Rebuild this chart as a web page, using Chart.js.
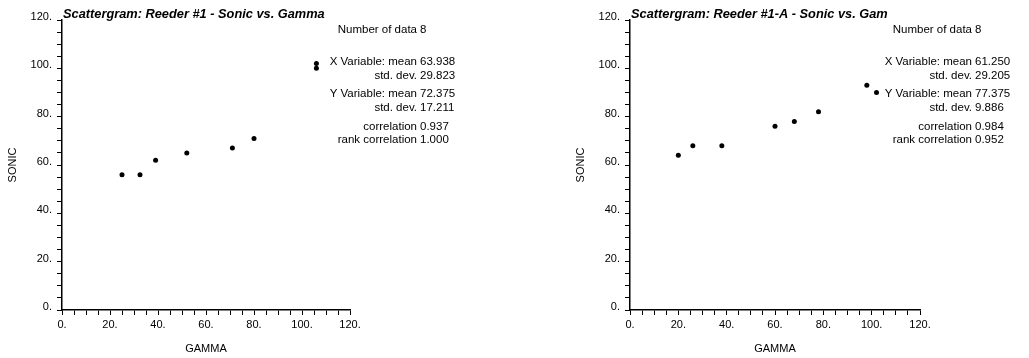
<!DOCTYPE html>
<html>
<head>
<meta charset="utf-8">
<script src="https://cdn.jsdelivr.net/npm/chart.js@4.4.1/dist/chart.umd.min.js"></script>
<style>
  body { margin: 0; background: #fff; width: 1029px; height: 358px; position: relative; overflow: hidden; }
  .box { position: absolute; top: 0; height: 358px; }
  #left { left: 0; width: 510px; }
  #right { left: 568px; width: 461px; }
</style>
</head>
<body>
<div class="box" id="left"><canvas id="c1"></canvas></div>
<div class="box" id="right"><canvas id="c2"></canvas></div>
<script>
// data
const gamma1 = [25, 32.5, 39, 52, 71, 80, 106, 106];
const sonic1 = [56, 56, 62, 65, 67, 71, 102, 100];
const gamma2 = [20, 26, 38, 60, 68, 78, 98, 102];
const sonic2 = [64, 68, 68, 76, 78, 82, 93, 90];
const axisLabels = [0, 20, 40, 60, 80, 100, 120];
const statLabels = ["Number of data", "X Variable: mean", "std. dev.", "Y Variable: mean", "std. dev.", "correlation", "rank correlation"];
const stats1 = ["8", "63.938", "29.823", "72.375", "17.211", "0.937", "1.000"];
const stats2 = ["8", "61.250", "29.205", "77.375", "9.886", "0.984", "0.952"];
const title1 = "Scattergram: Reeder #1 - Sonic vs. Gamma";
const title2 = "Scattergram: Reeder #1-A - Sonic vs. Gam";

const FONT = "'Liberation Sans', Arial, sans-serif";
const rowY = [30, 62, 76, 94, 108, 127, 140]; // stat row centres

// draws the italic title and the stats block
const textPlugin = {
  id: 'textBlock',
  afterDraw(chart, args, opts) {
    const ctx = chart.ctx;
    const area = chart.chartArea;
    ctx.save();
    ctx.fillStyle = '#000';
    ctx.font = "italic bold 12.8px " + FONT;
    ctx.textAlign = 'left';
    ctx.textBaseline = 'alphabetic';
    ctx.fillText(opts.title, area.left + 1, 18);

    ctx.font = "11.5px " + FONT;
    ctx.textBaseline = 'middle';
    statLabels.forEach((lab, i) => {
      ctx.textAlign = 'right';
      ctx.fillText(lab, opts.statX, rowY[i]);
      ctx.textAlign = 'left';
      ctx.fillText(opts.values[i], opts.statX + 3, rowY[i]);
    });
    ctx.restore();
  }
};

function axisOpts(titleText, isY) {
  return {
    type: 'linear',
    min: 0,
    max: 120,
    ticks: {
      stepSize: 5,
      autoSkip: false,
      maxRotation: 0,
      color: '#000',
      font: { family: FONT, size: 11 },
      padding: isY ? 5 : 3,
      labelOffset: isY ? -3 : 0,
      callback: v => axisLabels.includes(v) ? v + '.' : ''
    },
    grid: {
      display: true,
      drawOnChartArea: false,
      drawTicks: true,
      tickLength: 5,
      tickColor: '#000',
      color: '#000'
    },
    border: { display: true, color: '#000', width: 1.5 },
    title: {
      display: true,
      text: titleText,
      color: '#000',
      font: { family: FONT, size: 11 },
      padding: isY ? { top: 6, bottom: 0 } : { top: 0, bottom: 2 }
    },
    afterFit: s => {
      if (isY) s.width = 62; else s.height = 48;
    }
  };
}

function makeChart(id, xs, ys, title, values, statX, padRight) {
  const pts = xs.map((x, i) => ({ x: x, y: ys[i] }));
  new Chart(document.getElementById(id), {
    type: 'scatter',
    data: {
      datasets: [{
        data: pts,
        pointRadius: 2.5,
        pointBackgroundColor: '#000',
        pointBorderColor: '#000',
        pointBorderWidth: 0
      }]
    },
    options: {
      responsive: true,
      maintainAspectRatio: false,
      animation: false,
      layout: { padding: { top: 20, left: 0, right: padRight, bottom: 0 } },
      plugins: {
        legend: { display: false },
        tooltip: { enabled: false },
        textBlock: { title: title, values: values, statX: statX }
      },
      scales: {
        x: axisOpts('GAMMA', false),
        y: axisOpts('SONIC', true)
      }
    },
    plugins: [textPlugin]
  });
}

makeChart('c1', gamma1, sonic1, title1, stats1, 417, 160);
makeChart('c2', gamma2, sonic2, title2, stats2, 404, 109);
</script>
</body>
</html>
